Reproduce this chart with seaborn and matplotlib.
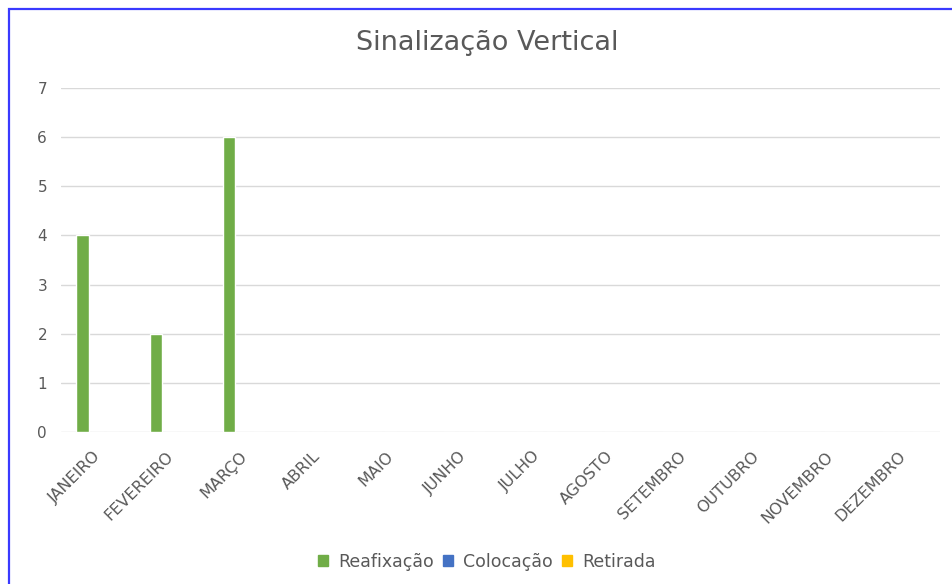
import matplotlib
matplotlib.use("Agg")
import matplotlib.pyplot as plt
from matplotlib.patches import Rectangle
from matplotlib.transforms import ScaledTranslation
import seaborn as sns
import pandas as pd

months = ["JANEIRO", "FEVEREIRO", "MARÇO", "ABRIL", "MAIO", "JUNHO", "JULHO",
          "AGOSTO", "SETEMBRO", "OUTUBRO", "NOVEMBRO", "DEZEMBRO"]
series = ["Reafixação", "Colocação", "Retirada"]
reafixacao = [4, 2, 6, 0, 0, 0, 0, 0, 0, 0, 0, 0]
colocacao = [0, 0, 0, 0, 0, 0, 0, 0, 0, 0, 0, 0]
retirada = [0, 0, 0, 0, 0, 0, 0, 0, 0, 0, 0, 0]
colors = ["#70AD47", "#4472C4", "#FFC000"]
title = "Sinalização Vertical"
yticks = [0, 1, 2, 3, 4, 5, 6, 7]

rows = []
for name, vals in zip(series, [reafixacao, colocacao, retirada]):
    for m, v in zip(months, vals):
        rows.append({"Mês": m, "Série": name, "Valor": v})
df = pd.DataFrame(rows)

sns.set_theme(style="white")
plt.rcParams["font.family"] = ["DejaVu Sans"]
txt = "#595959"

fig = plt.figure(figsize=(9.52, 5.84), dpi=100)
ax = fig.add_axes([61/952, 1-432/584, (940-61)/952, (432-88)/584])

sns.barplot(data=df, x="Mês", y="Valor", hue="Série", order=months,
            hue_order=series, palette=colors, width=0.615, gap=0.16,
            dodge=True, ax=ax, legend=False, errorbar=None, saturation=1)

ax.set_xlim(-0.5, 11.5)
ax.set_ylim(0, 7)
ax.set_yticks(yticks)
ax.set_yticklabels([str(t) for t in yticks], fontsize=11, color=txt)
ax.set_xlabel("")
ax.set_ylabel("")
ax.grid(axis="y", color="#d9d9d9", linewidth=1)
ax.set_axisbelow(True)
for s in ax.spines.values():
    s.set_visible(False)
ax.tick_params(axis="both", length=0)
ax.tick_params(axis="y", pad=10)
ax.tick_params(axis="x", pad=12)
ax.set_xticks(range(len(months)))
ax.set_xticklabels(months, rotation=45, ha="right", rotation_mode="anchor",
                   fontsize=11.5, color=txt)
shift = ScaledTranslation(-5/100, 0, fig.dpi_scale_trans)
for lab in ax.get_xticklabels():
    lab.set_transform(lab.get_transform() + shift)

fig.text(487/952, 1-43/584, title, ha="center", va="center",
         fontsize=19.5, color=txt)

# legend
handles = [Rectangle((0, 0), 1, 1, color=c) for c in colors]
fig.legend(handles, series, loc="center", bbox_to_anchor=(487/952, 1-562/584),
           ncol=3, frameon=False, fontsize=12.5, handlelength=0.58,
           handleheight=0.58, handletextpad=0.6, columnspacing=0.5,
           labelcolor=txt)

# blue border
fig.add_artist(Rectangle((9/952, -0.1), 1.2, 1 - 9/584 + 0.1,
                         transform=fig.transFigure, fill=False,
                         edgecolor="#3a3aff", linewidth=1.6))

fig.savefig("out.png", dpi=100, facecolor="white")
